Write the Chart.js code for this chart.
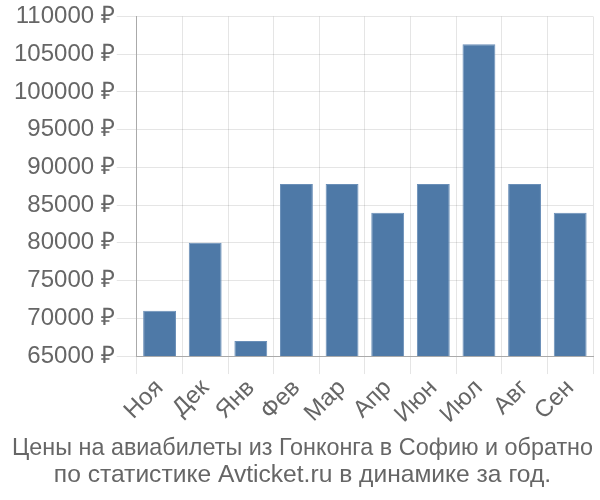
<!DOCTYPE html>
<html>
<head>
<meta charset="utf-8">
<script src="https://cdn.jsdelivr.net/npm/chart.js@4"></script>
<style>
html,body{margin:0;padding:0;background:#fff;}
#wrap{width:600px;height:500px;}
</style>
</head>
<body>
<div id="wrap"><canvas id="c" width="600" height="500"></canvas></div>
<script>
const categories = ["Ноя","Дек","Янв","Фев","Мар","Апр","Июн","Июл","Авг","Сен"];
const prices = [71000, 80000, 67000, 87800, 87800, 84000, 87800, 106300, 87800, 84000];
const titleLines = ["Цены на авиабилеты из Гонконга в Софию и обратно","по статистике Avticket.ru в динамике за год."];
const currency = " ₽";

Chart.defaults.font.family = "'Liberation Sans', Arial, sans-serif";
Chart.defaults.color = "#666";

new Chart(document.getElementById("c"), {
  type: "bar",
  data: {
    labels: categories,
    datasets: [{
      data: prices,
      backgroundColor: "#4e79a7",
      borderColor: "#6a8fb8",
      borderWidth: 1
    }]
  },
  options: {
    responsive: false,
    animation: false,
    layout: { padding: { left: 12, right: 7, top: 4, bottom: 0 } },
    plugins: {
      legend: { display: false },
      tooltip: { enabled: false },
      title: {
        display: true,
        position: "bottom",
        text: titleLines,
        font: { size: 24.6, weight: "normal", lineHeight: 1.1 },
        color: "#666",
        padding: { top: 6, bottom: 11 }
      }
    },
    scales: {
      x: {
        grid: { color: "rgba(0,0,0,0.1)", tickLength: 18, offset: true },
        border: { color: "#aaa" },
        ticks: { font: { size: 24 }, minRotation: 45, maxRotation: 45, color: "#666", padding: 0 }
      },
      y: {
        min: 65000,
        max: 110000,
        grid: { color: "rgba(0,0,0,0.1)", tickLength: 20 },
        border: { color: "#aaa" },
        ticks: {
          stepSize: 5000,
          font: { size: 24 },
          color: "#666",
          padding: 2,
          callback: v => v + currency
        }
      }
    }
  }
});
</script>
</body>
</html>
